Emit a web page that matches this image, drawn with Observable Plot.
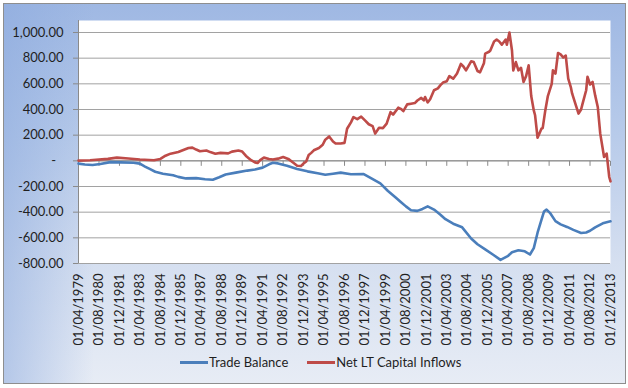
<!DOCTYPE html>
<html>
<head>
<meta charset="utf-8">
<script src="https://cdn.jsdelivr.net/npm/d3@7"></script>
<script src="https://cdn.jsdelivr.net/npm/@observablehq/plot@0.6"></script>
<style>
  html, body { margin: 0; padding: 0; background: #ffffff; }
  body { width: 628px; height: 388px; position: relative; overflow: hidden; font-family: Lato, "Open Sans", sans-serif; }
  #bg {
    position: absolute; left: 3px; top: 3px; width: 623px; height: 381px; box-sizing: border-box;
    border: 1px solid #8e8e8e;
    background:
      linear-gradient(to right, rgba(140,170,222,0.55) 0px, rgba(140,170,222,0) 90px),
      linear-gradient(to bottom, #9fb8e3 0%, #b8cbea 35%, #d5dff0 68%, #e7ecf5 100%);
  }
  #plot { position: absolute; left: 0; top: 0; }
  #legend { position: absolute; left: 180px; top: 354px; display: flex; align-items: center; font-size: 13px; color: #1f1f1f; }
  .item { display: flex; align-items: center; margin-right: 19px; }
  .sw { width: 28px; height: 3px; margin-right: 1px; }
</style>
</head>
<body>
<div id="bg"></div>
<div id="plot"></div>
<div id="legend"></div>
<script>
const seriesNames = ["Trade Balance", "Net LT Capital Inflows"];
const seriesColors = ["#4A7EBB", "#BE4B48"];

const tradeDates = ["1979-04","1979-09","1980-03","1980-09","1981-05","1982-01","1982-11","1983-04","1983-08","1983-12",
"1984-04","1984-10","1985-06","1985-10","1986-04","1986-12","1987-07","1988-01","1988-06","1988-11",
"1989-07","1990-04","1990-10","1991-04","1991-09","1991-12","1992-04","1992-11","1993-07","1994-03",
"1994-11","1995-05","1995-11","1996-05","1997-01","1997-11","1998-04","1998-12","1999-06","1999-12",
"2000-04","2000-08","2000-12","2001-05","2001-09","2002-01","2002-06","2002-11","2003-03","2003-09",
"2004-04","2004-11","2005-04","2005-10","2006-04","2006-10","2007-04","2007-07","2007-12","2008-05",
"2008-09","2008-12","2009-03","2009-06","2009-08","2009-10","2010-01","2010-05","2010-09","2011-02",
"2011-07","2012-01","2012-05","2012-08","2012-12","2013-06","2013-12"];
const tradeValues = [-22,-28,-33,-25,-10,-12,-15,-22,-45,-65,
-85,-100,-113,-125,-137,-135,-143,-147,-128,-107,
-92,-76,-68,-53,-27,-15,-20,-38,-63,-82,
-97,-108,-100,-92,-105,-103,-130,-175,-235,-285,
-320,-355,-385,-390,-375,-355,-380,-420,-455,-490,
-518,-605,-650,-690,-730,-772,-740,-712,-697,-705,
-730,-680,-560,-460,-395,-380,-410,-470,-495,-515,
-538,-562,-558,-545,-518,-487,-471];

const capDates = ["1979-04","1980-01","1981-03","1981-10","1982-07","1983-04","1984-03","1984-08","1984-12","1985-04",
"1985-10","1986-03","1986-06","1986-09","1986-12","1987-03","1987-08","1987-11","1988-03","1988-07",
"1989-01","1989-04","1989-09","1989-12","1990-03","1990-07","1990-10","1990-12","1991-02","1991-05",
"1991-09","1991-12","1992-04","1992-08","1992-12","1993-04","1993-07","1993-10","1993-12","1994-02",
"1994-04","1994-06","1994-08","1994-12","1995-03","1995-05","1995-08","1995-11","1996-01","1996-05",
"1996-08","1996-10","1997-01","1997-03","1997-06","1997-09","1997-12","1998-03","1998-06","1998-08",
"1998-11","1999-02","1999-05","1999-08","1999-10","2000-02","2000-04","2000-06","2000-09","2000-12",
"2001-03","2001-05","2001-08","2001-10","2001-11","2002-01","2002-03","2002-06","2002-09","2002-11",
"2003-01","2003-04","2003-06","2003-09","2003-12","2004-03","2004-05","2004-07","2004-11","2005-01",
"2005-04","2005-06","2005-09","2005-10","2006-01","2006-02","2006-05","2006-07","2006-09","2006-11",
"2007-02","2007-03","2007-05","2007-07","2007-08","2007-10","2007-12","2008-02","2008-04","2008-06",
"2008-08","2008-10","2008-12","2009-01","2009-03","2009-06","2009-07","2009-09","2009-11","2010-02",
"2010-03","2010-05","2010-07","2010-09","2010-11","2011-01","2011-03","2011-05","2011-06","2011-09",
"2011-11","2012-01","2012-02","2012-05","2012-06","2012-08","2012-10","2012-12","2013-02","2013-04",
"2013-07","2013-09","2013-11","2013-12"];
const capValues = [2,5,15,25,18,10,4,15,40,56,
69,88,100,103,88,75,80,68,55,62,
58,72,80,72,38,5,-12,-17,5,25,
15,10,17,30,15,-15,-38,-40,-20,-5,
45,62,82,100,125,165,190,150,135,135,
140,250,300,341,325,345,315,285,270,212,
258,255,290,380,360,414,405,388,440,445,
450,470,490,472,497,455,480,550,565,590,
610,620,660,640,680,755,735,705,775,770,
700,690,760,835,850,860,930,945,930,905,
945,905,1000,860,705,770,705,725,614,660,
744,505,393,355,180,250,255,393,505,600,
705,680,840,830,805,820,640,575,525,430,
368,400,440,550,655,595,615,510,420,212,
30,56,-126,-160];

const xTickLabels = ["01/04/1979","01/08/1980","01/12/1981","01/04/1983","01/08/1984","01/12/1985","01/04/1987",
"01/08/1988","01/12/1989","01/04/1991","01/08/1992","01/12/1993","01/04/1995","01/08/1996","01/12/1997",
"01/04/1999","01/08/2000","01/12/2001","01/04/2003","01/08/2004","01/12/2005","01/04/2007","01/08/2008",
"01/12/2009","01/04/2011","01/08/2012","01/12/2013"];
const yTicks = [-800, -600, -400, -200, 0, 200, 400, 600, 800, 1000];

const parseMonth = d3.utcParse("%Y-%m");
const parseTick = d3.utcParse("%d/%m/%Y");
const fmtTick = d3.utcFormat("%d/%m/%Y");
const xTicks = xTickLabels.map(parseTick);

const trade = tradeDates.map((d, i) => ({date: parseMonth(d), value: tradeValues[i]}));
const cap = capDates.map((d, i) => ({date: parseMonth(d), value: capValues[i]}));

const f2 = d3.format(",.2f");
const yFmt = d => d === 0 ? "-\u2007" : (d < 0 ? "-" : "") + f2(Math.abs(d));

// small downward tick glyph for the category axis that crosses at zero
const downTick = {draw(ctx) { ctx.moveTo(0, 0); ctx.lineTo(0, 5); }};

const chart = Plot.plot({
  width: 628,
  height: 388,
  marginLeft: 78,
  marginRight: 18,
  marginTop: 20,
  marginBottom: 125,
  style: {background: "transparent", fontFamily: "Lato, 'Open Sans', sans-serif", fontSize: "13px", color: "#1f1f1f", overflow: "visible"},
  x: {type: "utc", domain: d3.extent(trade, d => d.date)},
  y: {domain: [-800, 1000], insetTop: 12},
  marks: [
    Plot.frame({fill: "white", stroke: null}),
    Plot.gridY(yTicks, {stroke: "#a2a2a2", strokeOpacity: 1, strokeWidth: 1}),
    Plot.ruleX([d3.min(trade, d => d.date)], {stroke: "#8a8a8a"}),
    Plot.ruleY([0], {stroke: "#8a8a8a"}),
    Plot.dot(xTicks, {x: d => d, y: () => 0, symbol: downTick, r: 3, fill: "none", stroke: "#8a8a8a", strokeWidth: 1}),
    Plot.axisY(yTicks, {anchor: "left", tickSize: 5, tickPadding: 10, tickFormat: yFmt, stroke: "#8a8a8a", fill: "#1f1f1f", label: null, fontSize: 13}),
    Plot.axisX(xTicks, {anchor: "bottom", tickSize: 0, tickPadding: 10, tickRotate: -90, tickFormat: fmtTick, fill: "#1f1f1f", label: null, fontSize: 13}),
    Plot.lineY(trade, {x: "date", y: "value", stroke: seriesColors[0], strokeWidth: 2.6}),
    Plot.lineY(cap, {x: "date", y: "value", stroke: seriesColors[1], strokeWidth: 2.6})
  ]
});
document.getElementById("plot").appendChild(chart);

const legend = document.getElementById("legend");
seriesNames.forEach((name, i) => {
  const item = document.createElement("div");
  item.className = "item";
  const sw = document.createElement("div");
  sw.className = "sw";
  sw.style.background = seriesColors[i];
  const t = document.createElement("span");
  t.textContent = name;
  item.appendChild(sw);
  item.appendChild(t);
  legend.appendChild(item);
});
</script>
</body>
</html>
